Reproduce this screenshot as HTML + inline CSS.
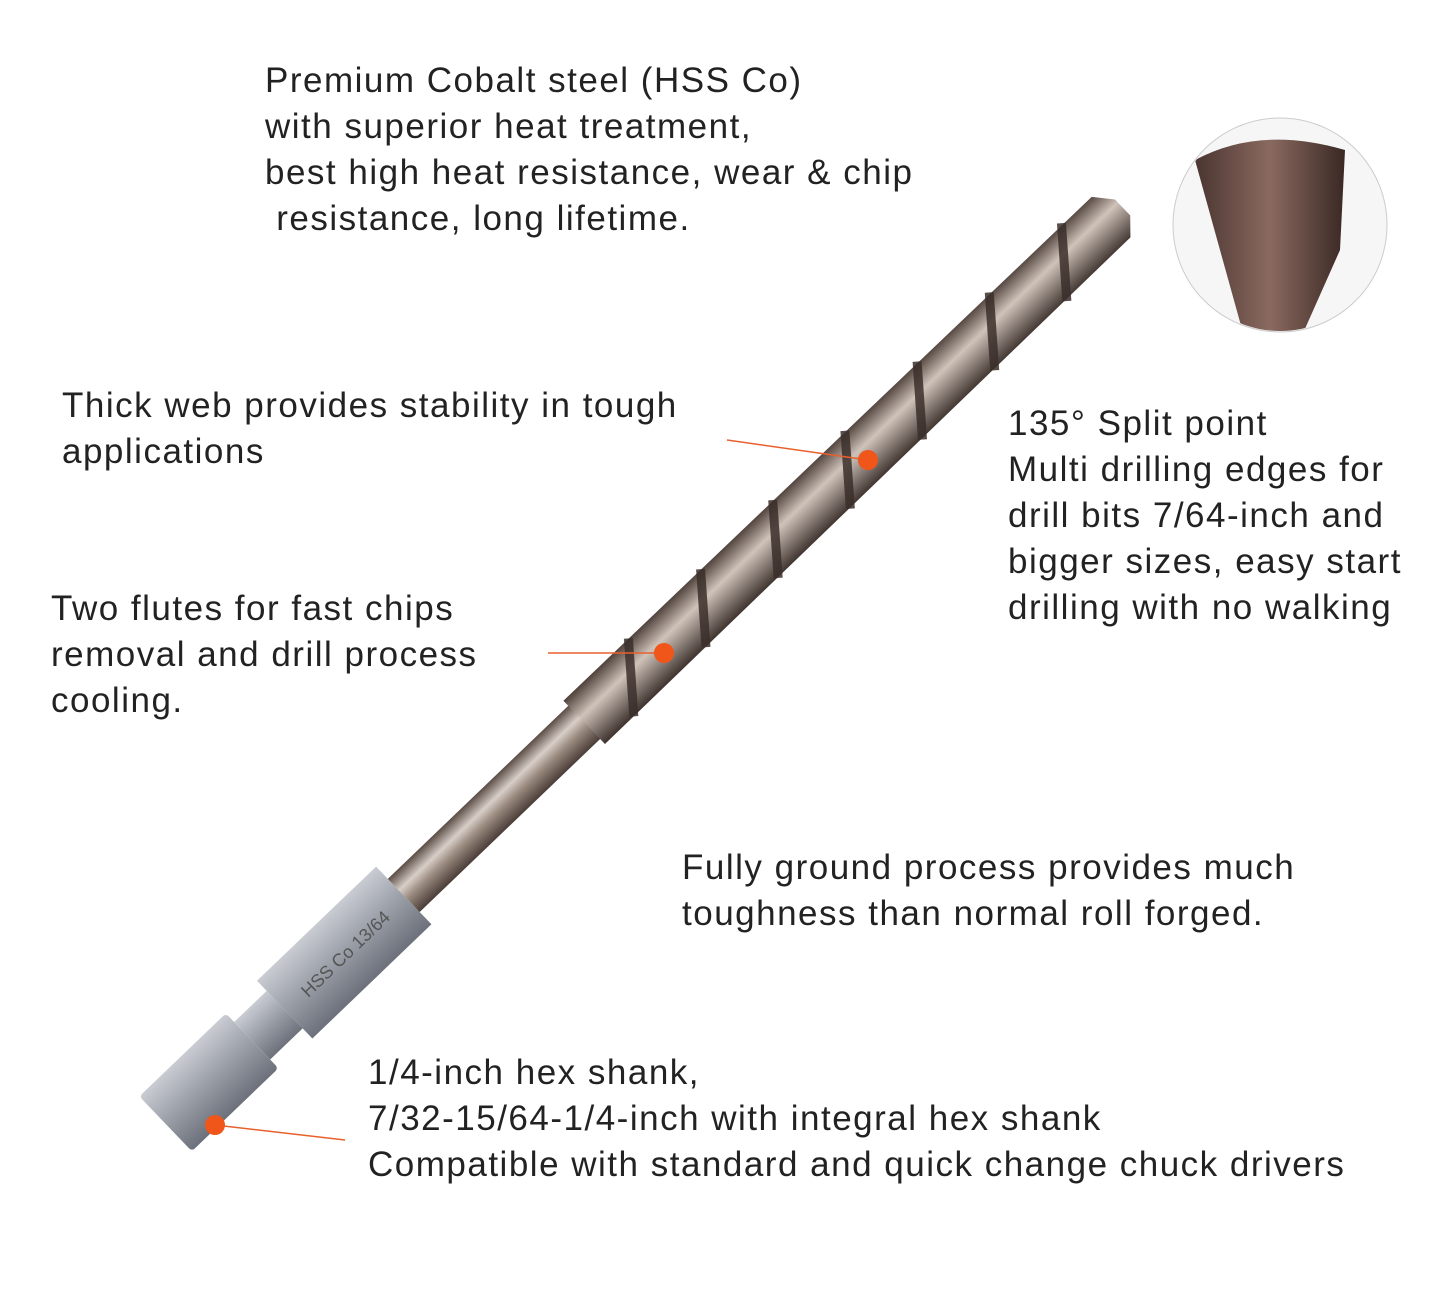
<!DOCTYPE html>
<html><head><meta charset="utf-8"><style>
html,body{margin:0;padding:0;background:#fff;}
body{width:1445px;height:1297px;position:relative;overflow:hidden;font-family:"Liberation Sans",sans-serif;color:#222;}
.t{position:absolute;font-size:35px;letter-spacing:1.5px;line-height:46px;white-space:pre;}
svg{position:absolute;left:0;top:0;}
</style></head><body>
<svg width="1445" height="1297" viewBox="0 0 1445 1297">
<defs>
<linearGradient id="hex" x1="0" y1="0" x2="0" y2="1">
<stop offset="0" stop-color="#c9ccd2"/><stop offset="0.45" stop-color="#9ea2ab"/><stop offset="1" stop-color="#6c707a"/></linearGradient>
<linearGradient id="shank" x1="0" y1="0" x2="0" y2="1">
<stop offset="0" stop-color="#5a4c45"/><stop offset="0.35" stop-color="#d8cfc8"/><stop offset="0.6" stop-color="#9b8b80"/><stop offset="1" stop-color="#4a3d38"/></linearGradient>
<linearGradient id="flute" x1="0" y1="0" x2="0" y2="1">
<stop offset="0" stop-color="#4e403a"/><stop offset="0.4" stop-color="#cfc3ba"/><stop offset="1" stop-color="#3e322e"/></linearGradient>
<linearGradient id="tip" x1="0" y1="0" x2="1" y2="0">
<stop offset="0" stop-color="#4a3530"/><stop offset="0.5" stop-color="#8a6a60"/><stop offset="1" stop-color="#3a2824"/></linearGradient>
<clipPath id="cc"><circle cx="1280" cy="225" r="106"/></clipPath>
</defs>
<g transform="translate(180,1110) rotate(-43.8)">
<rect x="-20" y="-38" width="120" height="76" fill="url(#hex)" rx="4"/>
<rect x="100" y="-26" width="45" height="52" fill="url(#hex)"/>
<rect x="145" y="-40" width="165" height="80" fill="url(#hex)"/>
<rect x="310" y="-23" width="260" height="46" fill="url(#shank)"/>
<path d="M560,-30 L1290,-28 L1305,-10 L1305,12 L1290,28 L560,30 Z" fill="url(#flute)"/>
<g stroke="#3b2f2b" stroke-width="9" fill="none" opacity="0.85">
<path d="M600,30 L650,-30"/><path d="M700,30 L750,-30"/><path d="M800,30 L850,-30"/><path d="M900,30 L950,-30"/><path d="M1000,30 L1050,-30"/><path d="M1100,30 L1150,-30"/><path d="M1200,30 L1250,-30"/>
</g>
<text x="170" y="8" font-size="18" fill="#555" font-family="Liberation Sans">HSS Co 13/64</text>
</g>
<circle cx="1280" cy="225" r="107" fill="#f6f6f6" stroke="#ccc" stroke-width="1"/>
<g clip-path="url(#cc)">
<path d="M1195,160 Q1260,125 1345,150 L1340,250 L1300,340 L1245,340 Z" fill="url(#tip)"/>
</g>
<g stroke="#e8602c" stroke-width="1.5">
<line x1="727" y1="440" x2="868" y2="460"/>
<line x1="548" y1="653" x2="664" y2="653"/>
<line x1="215" y1="1125" x2="345" y2="1140"/>
</g>
<g fill="#f0561a">
<circle cx="868" cy="460" r="10"/><circle cx="664" cy="653" r="10"/><circle cx="215" cy="1125" r="10"/>
</g>
</svg>
<div class="t" style="left:265px;top:58px;">Premium Cobalt steel (HSS Co)
with superior heat treatment,
best high heat resistance, wear &amp; chip
 resistance, long lifetime.</div>
<div class="t" style="left:62px;top:383px;">Thick web provides stability in tough
applications</div>
<div class="t" style="left:1008px;top:401px;">135° Split point
Multi drilling edges for
drill bits 7/64-inch and
bigger sizes, easy start
drilling with no walking</div>
<div class="t" style="left:51px;top:586px;">Two flutes for fast chips
removal and drill process
cooling.</div>
<div class="t" style="left:682px;top:845px;">Fully ground process provides much
toughness than normal roll forged.</div>
<div class="t" style="left:368px;top:1050px;">1/4-inch hex shank,
7/32-15/64-1/4-inch with integral hex shank
Compatible with standard and quick change chuck drivers</div>
</body></html>
